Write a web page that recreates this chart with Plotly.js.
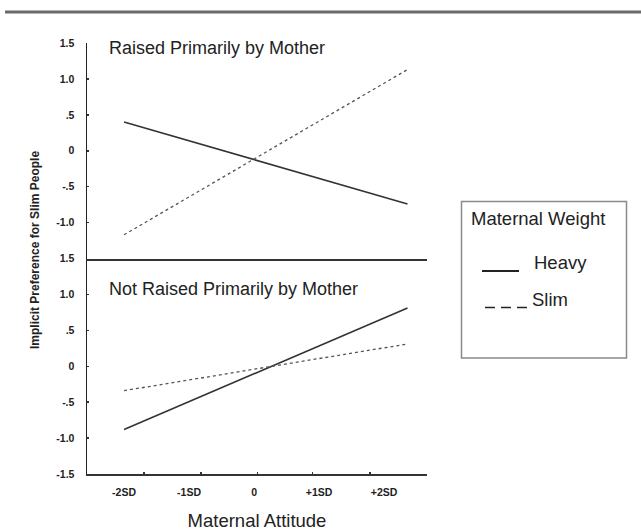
<!DOCTYPE html>
<html>
<head>
<meta charset="utf-8">
<script src="https://cdn.plot.ly/plotly-3.0.1.min.js"></script>
<style>html,body{margin:0;padding:0;background:#fff;}#chart{width:641px;height:531px;}</style>
</head>
<body>
<div id="chart"></div>
<script>
// ---- data ----
const attitudeX = [-2.0, 2.36];              // maternal attitude (SD units) at line ends
const raisedHeavy = [0.40, -0.74];
const raisedSlim = [-1.17, 1.13];
const notRaisedHeavy = [-0.88, 0.81];
const notRaisedSlim = [-0.34, 0.31];
const xTickVals = [-2, -1, 0, 1, 2];
const xTickText = ['-2SD', '-1SD', '0', '+1SD', '+2SD'];
const xMinorTicks = [-1.69, -0.82, 0.05, 0.90, 1.78];
const yTickValsTop = [-1, -0.5, 0, 0.5, 1, 1.5];
const yTickTextTop = ['-1.0', '-.5', '0', '.5', '1.0', '1.5'];
const yTickValsBottom = [-1.5, -1, -0.5, 0, 0.5, 1, 1.5];
const yTickTextBottom = ['-1.5', '-1.0', '-.5', '0', '.5', '1.0', '1.5'];
const seriesNames = ['Heavy', 'Slim'];

// ---- layout helpers (pixel -> paper) ----
const W = 641, H = 531, ML = 87, MR = 214, MT = 43, MB = 57;
const PW = W - ML - MR, PH = H - MT - MB;
const px = x => (x - ML) / PW;
const py = y => (H - MB - y) / PH;

const FONT = 'Liberation Sans, Arial, sans-serif';
const heavyLine = {color: '#333333', width: 1.6};
const slimLine = {color: '#555555', width: 1.3, dash: '3px,3px'};

const traces = [
  {x: attitudeX, y: raisedHeavy, xaxis: 'x2', yaxis: 'y2', mode: 'lines', line: heavyLine, name: seriesNames[0], showlegend: false},
  {x: attitudeX, y: raisedSlim, xaxis: 'x2', yaxis: 'y2', mode: 'lines', line: slimLine, name: seriesNames[1], showlegend: false},
  {x: attitudeX, y: notRaisedHeavy, xaxis: 'x', yaxis: 'y', mode: 'lines', line: heavyLine, name: seriesNames[0], showlegend: false},
  {x: attitudeX, y: notRaisedSlim, xaxis: 'x', yaxis: 'y', mode: 'lines', line: slimLine, name: seriesNames[1], showlegend: false}
];

const xRange = [-2.57, 2.66];
const tickFont = {family: FONT, size: 10.5, color: '#222', weight: 'bold'};
const legFont = {family: FONT, size: 18.5, color: '#222'};

const layout = {
  width: W, height: H,
  margin: {l: ML, r: MR, t: MT, b: MB, pad: 0},
  paper_bgcolor: '#fff', plot_bgcolor: 'rgba(0,0,0,0)',
  showlegend: false,
  font: {family: FONT, color: '#222'},
  xaxis: {
    domain: [0, 1], anchor: 'y', range: xRange, fixedrange: true,
    showline: true, linecolor: '#333', linewidth: 1.5, zeroline: false, showgrid: false,
    tickmode: 'array', tickvals: xTickVals, ticktext: xTickText, ticks: '', ticklabelstandoff: 8,
    tickfont: tickFont,
    minor: {tickmode: 'array', tickvals: xMinorTicks, ticks: 'inside', ticklen: 2, tickwidth: 1.5, tickcolor: '#333', showgrid: false},
    title: {text: 'Maternal Attitude', font: {family: FONT, size: 18.5, color: '#222'}, standoff: 19}
  },
  yaxis: {
    domain: [0, 0.5], anchor: 'x', range: [-1.5, 1.5], fixedrange: true,
    showline: true, linecolor: '#222', linewidth: 1.5, zeroline: false, showgrid: false,
    tickmode: 'array', tickvals: yTickValsBottom, ticktext: yTickTextBottom,
    ticks: 'inside', ticklen: 2, tickwidth: 1.5, tickcolor: '#333', ticklabelstandoff: 9,
    tickfont: tickFont
  },
  xaxis2: {
    domain: [0, 1], anchor: 'y2', range: xRange, fixedrange: true, matches: 'x',
    showline: true, linecolor: '#333', linewidth: 2.5, zeroline: false, showgrid: false,
    showticklabels: false, ticks: ''
  },
  yaxis2: {
    domain: [0.5, 1], anchor: 'x2', range: [-1.5, 1.5], fixedrange: true,
    showline: true, linecolor: '#222', linewidth: 1.5, zeroline: false, showgrid: false,
    tickmode: 'array', tickvals: yTickValsTop, ticktext: yTickTextTop,
    ticks: 'inside', ticklen: 2, tickwidth: 1.5, tickcolor: '#333', ticklabelstandoff: 9,
    tickfont: tickFont
  },
  shapes: [
    // rule at top of figure
    {type: 'line', xref: 'paper', yref: 'paper', x0: px(5), x1: px(641), y0: py(12), y1: py(12), line: {color: '#6a6a6a', width: 3}},
    // legend box
    {type: 'rect', xref: 'paper', yref: 'paper', x0: px(461.5), x1: px(626.5), y0: py(358), y1: py(201.5), line: {color: '#8a8a8a', width: 1.5}, fillcolor: 'rgba(0,0,0,0)'},
    // legend samples
    {type: 'line', xref: 'paper', yref: 'paper', x0: px(482), x1: px(519), y0: py(271), y1: py(271), line: {color: '#222', width: 1.8}},
    {type: 'line', xref: 'paper', yref: 'paper', x0: px(485), x1: px(528), y0: py(307.5), y1: py(307.5), line: {color: '#222', width: 1.6, dash: '10px,6px'}}
  ],
  annotations: [
    {xref: 'paper', yref: 'paper', x: px(107), y: py(48), xanchor: 'left', yanchor: 'middle', text: 'Raised Primarily by Mother', showarrow: false, font: {family: FONT, size: 18, color: '#222'}},
    {xref: 'paper', yref: 'paper', x: px(107), y: py(289), xanchor: 'left', yanchor: 'middle', text: 'Not Raised Primarily by Mother', showarrow: false, font: {family: FONT, size: 18, color: '#222'}},
    {xref: 'paper', yref: 'paper', x: px(35), y: py(250), xanchor: 'center', yanchor: 'middle', textangle: -90, text: 'Implicit Preference for Slim People', showarrow: false, font: {family: FONT, size: 12, color: '#222', weight: 'bold'}},
    {xref: 'paper', yref: 'paper', x: px(469), y: py(218), xanchor: 'left', yanchor: 'middle', text: 'Maternal Weight', showarrow: false, font: legFont},
    {xref: 'paper', yref: 'paper', x: px(532), y: py(262), xanchor: 'left', yanchor: 'middle', text: seriesNames[0], showarrow: false, font: legFont},
    {xref: 'paper', yref: 'paper', x: px(530), y: py(299), xanchor: 'left', yanchor: 'middle', text: seriesNames[1], showarrow: false, font: legFont}
  ]
};

Plotly.newPlot('chart', traces, layout, {staticPlot: true, displayModeBar: false});
</script>
</body>
</html>
